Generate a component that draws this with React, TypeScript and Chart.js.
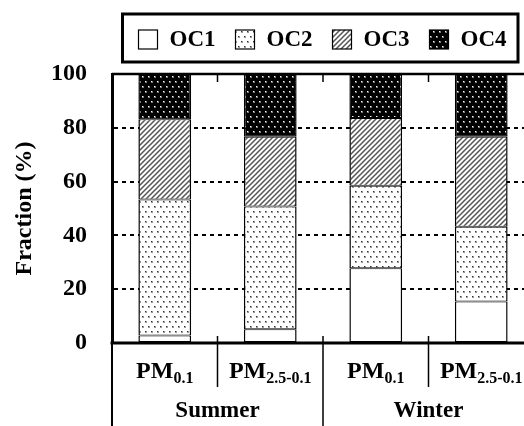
import React, { useEffect, useRef } from 'react';
import { Chart, registerables } from 'chart.js';

Chart.register(...registerables);

const categories = ['PM0.1 Summer', 'PM2.5-0.1 Summer', 'PM0.1 Winter', 'PM2.5-0.1 Winter'];
const labelMain = ['PM', 'PM', 'PM', 'PM'];
const labelSub = ['0.1', '2.5-0.1', '0.1', '2.5-0.1'];
const seasons = ['Summer', 'Winter'];
const seriesNames = ['OC1', 'OC2', 'OC3', 'OC4'];
const oc1 = [2.8, 5.1, 27.8, 15.4];
const oc2 = [50.5, 45.6, 30.7, 27.8];
const oc3 = [29.9, 26.0, 25.1, 33.5];
const oc4 = [16.8, 23.3, 16.4, 23.3];
const yTitle = 'Fraction (%)';

const FONT = '"Liberation Serif", "Times New Roman", serif';

function tile(w: number, h: number, draw: (g: CanvasRenderingContext2D) => void): CanvasPattern {
  const c = document.createElement('canvas');
  c.width = w;
  c.height = h;
  const g = c.getContext('2d')!;
  draw(g);
  const ref = document.createElement('canvas').getContext('2d')!;
  return ref.createPattern(c, 'repeat')!;
}

function dots(bg: string, fg: string, mid: string): CanvasPattern {
  return tile(6, 10, (g) => {
    g.fillStyle = bg;
    g.fillRect(0, 0, 6, 10);
    g.fillStyle = mid;
    g.fillRect(1, 1, 2, 2);
    g.fillRect(4, 6, 2, 2);
    g.fillStyle = fg;
    g.fillRect(1, 1, 1, 1);
    g.fillRect(4, 6, 1, 1);
  });
}

function hatch(): CanvasPattern {
  return tile(5, 5, (g) => {
    g.fillStyle = '#fff';
    g.fillRect(0, 0, 5, 5);
    g.strokeStyle = '#555';
    g.lineWidth = 1.5;
    g.beginPath();
    g.moveTo(-1, 6);
    g.lineTo(6, -1);
    g.moveTo(-1, 1);
    g.lineTo(1, -1);
    g.moveTo(4, 6);
    g.lineTo(6, 4);
    g.stroke();
  });
}

export default function App() {
  const ref = useRef<HTMLCanvasElement | null>(null);

  useEffect(() => {
    const canvas = ref.current!;
    const fills: (string | CanvasPattern)[] = [
      '#ffffff',
      dots('#ffffff', '#333', '#999'),
      hatch(),
      dots('#000000', '#fff', '#777'),
    ];
    const series = [oc1, oc2, oc3, oc4];

    const decor = {
      id: 'decor',
      afterDraw(chart: any) {
        const ctx: CanvasRenderingContext2D = chart.ctx;
        const area = chart.chartArea;
        const xs = chart.scales.x;
        const H = chart.height;
        ctx.save();
        ctx.strokeStyle = '#000';
        ctx.fillStyle = '#000';
        ctx.lineCap = 'butt';

        // frame top, right, bottom
        ctx.lineWidth = 2.5;
        ctx.beginPath();
        ctx.moveTo(area.left, area.top);
        ctx.lineTo(area.right, area.top);
        ctx.lineTo(area.right, area.bottom);
        ctx.stroke();
        ctx.lineWidth = 3;
        ctx.beginPath();
        ctx.moveTo(area.left - 1.5, area.bottom);
        ctx.lineTo(area.right, area.bottom);
        ctx.stroke();
        // left axis extension below
        ctx.lineWidth = 2;
        ctx.beginPath();
        ctx.moveTo(area.left, area.bottom);
        ctx.lineTo(area.left, H);
        ctx.stroke();

        // category boundaries
        const n = categories.length;
        const bounds: number[] = [];
        for (let i = 1; i < n; i++) {
          bounds.push((xs.getPixelForValue(i - 1) + xs.getPixelForValue(i)) / 2);
        }
        ctx.lineWidth = 1.5;
        bounds.forEach((bx, k) => {
          const long = k === 1;
          ctx.beginPath();
          ctx.moveTo(bx, area.top);
          ctx.lineTo(bx, area.top + 8);
          ctx.moveTo(bx, area.bottom - 7);
          ctx.lineTo(bx, long ? H : area.bottom + 44);
          ctx.stroke();
        });

        // x labels with subscripts
        ctx.textBaseline = 'alphabetic';
        ctx.textAlign = 'left';
        const mainFont = `bold 24px ${FONT}`;
        const subFont = `bold 16px ${FONT}`;
        for (let i = 0; i < n; i++) {
          const cx = xs.getPixelForValue(i);
          ctx.font = mainFont;
          const wm = ctx.measureText(labelMain[i]).width;
          ctx.font = subFont;
          const ws = ctx.measureText(labelSub[i]).width;
          const x0 = cx - (wm + ws) / 2;
          ctx.font = mainFont;
          ctx.fillText(labelMain[i], x0, area.bottom + 35);
          ctx.font = subFont;
          ctx.fillText(labelSub[i], x0 + wm, area.bottom + 40);
        }
        // season labels
        ctx.font = `bold 23px ${FONT}`;
        ctx.textAlign = 'center';
        ctx.textBaseline = 'middle';
        seasons.forEach((s, k) => {
          const cx = (xs.getPixelForValue(2 * k) + xs.getPixelForValue(2 * k + 1)) / 2;
          ctx.fillText(s, cx, area.bottom + 68);
        });

        // legend
        const lx0 = 122.5, ly0 = 14, lx1 = 518, ly1 = 62;
        ctx.lineWidth = 3;
        ctx.strokeRect(lx0, ly0, lx1 - lx0, ly1 - ly0);
        ctx.font = `bold 23px ${FONT}`;
        ctx.textAlign = 'left';
        ctx.textBaseline = 'middle';
        let x = 138.5;
        const sq = 19;
        const sy = 30;
        chart.data.datasets.forEach((ds: any) => {
          ctx.fillStyle = ds.backgroundColor;
          ctx.fillRect(x, sy, sq, sq);
          ctx.lineWidth = 1.2;
          ctx.strokeStyle = '#000';
          ctx.strokeRect(x, sy, sq, sq);
          ctx.fillStyle = '#000';
          const tx = x + sq + 12;
          ctx.fillText(ds.label, tx, sy + sq / 2 + 1);
          x = tx + ctx.measureText(ds.label).width + 20;
        });
        ctx.restore();
      },
    };

    const chart = new Chart(canvas, {
      type: 'bar',
      data: {
        labels: categories,
        datasets: seriesNames.map((name, i) => ({
          label: name,
          data: series[i],
          backgroundColor: fills[i] as any,
          borderColor: '#000',
          borderWidth: { top: 1, bottom: 1, left: 1.5, right: 1.5 },
          borderSkipped: false,
          barPercentage: 0.5,
          categoryPercentage: 1,
        })),
      },
      options: {
        responsive: false,
        animation: false,
        events: [],
        layout: { padding: { top: 74, right: 6, bottom: 83, left: 0 } },
        plugins: { legend: { display: false }, tooltip: { enabled: false } },
        scales: {
          x: { stacked: true, display: false },
          y: {
            stacked: true,
            min: 0,
            max: 100,
            afterFit: (s: any) => {
              s.width = 112;
            },
            ticks: {
              stepSize: 20,
              padding: 25,
              color: '#000',
              font: { family: FONT, size: 24, weight: 'bold' },
            },
            title: {
              display: true,
              text: yTitle,
              color: '#000',
              padding: { top: 10, bottom: 0 },
              font: { family: FONT, size: 24, weight: 'bold' },
            },
            grid: {
              drawTicks: false,
              lineWidth: 2,
              color: (c: any) =>
                c.tick && (c.tick.value === 0 || c.tick.value === 100) ? 'rgba(0,0,0,0)' : '#000',
            },
            border: { display: true, color: '#000', width: 3, dash: [4, 4] },
          },
        },
      },
      plugins: [decor],
    });
    return () => chart.destroy();
  }, []);

  return (
    <div style={{ position: 'fixed', left: 0, top: 0, width: 524, height: 426, overflow: 'hidden', background: '#fff' }}>
      <canvas ref={ref} width={540} height={426} style={{ display: 'block', width: 540, height: 426 }} />
    </div>
  );
}
